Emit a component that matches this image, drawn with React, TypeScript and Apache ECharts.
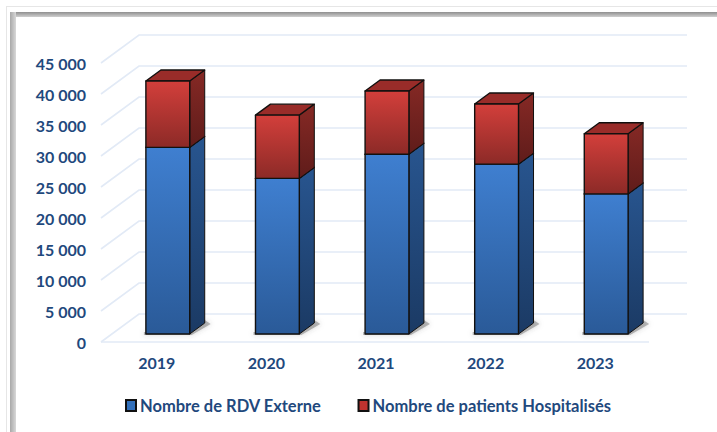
import React, { useEffect, useRef } from "react";
import * as echarts from "echarts";

const categories = ["2019", "2020", "2021", "2022", "2023"];
const rdvExterne = [30100, 25100, 29000, 27400, 22600];
const hospitalises = [10700, 10200, 10200, 9700, 9700];
const yTicks = [0, 5000, 10000, 15000, 20000, 25000, 30000, 35000, 40000, 45000];
const rdvName = "Nombre de RDV Externe";
const hospName = "Nombre de patients Hospitalisés";

const TEXT = "#1f497d";
const FONT = "Lato";
const WALL = { dx: 38, dy: -28 };
const BAR = { shiftX: 12, shiftY: -8, depthX: 15, depthY: -11, ratio: 0.4 };

const grad = (a: string, b: string) =>
  new echarts.graphic.LinearGradient(0, 0, 0, 1, [
    { offset: 0, color: a },
    { offset: 1, color: b },
  ]);

function wallItem(params: any, api: any) {
  const v = api.value(0);
  const cs = params.coordSys;
  const y = api.coord([0, v])[1];
  const l = cs.x;
  const r = cs.x + cs.width;
  const style = { stroke: "#e2eaf6", lineWidth: 1.6, fill: "none" };
  const children: any[] = [
    {
      type: "polyline",
      shape: { points: [[l, y], [l + WALL.dx, y + WALL.dy], [r + WALL.dx, y + WALL.dy]] },
      style,
    },
  ];
  if (v === 0) children.push({ type: "line", shape: { x1: l, y1: y, x2: r, y2: y }, style });
  return { type: "group", children };
}

function barItem(colors: { front: [string, string]; side: [string, string]; top: string }, base: boolean) {
  return (_params: any, api: any) => {
    const i = api.value(0);
    const p0 = api.coord([i, api.value(1)]);
    const p1 = api.coord([i, api.value(2)]);
    const w = api.size([1, 0])[0] * BAR.ratio;
    const xl = p0[0] + BAR.shiftX - w / 2;
    const xr = xl + w;
    const yb = p0[1] + BAR.shiftY;
    const yt = p1[1] + BAR.shiftY;
    const dx = BAR.depthX;
    const dy = BAR.depthY;
    const edge = { stroke: "#12100f", lineWidth: 1.4, lineJoin: "round" };
    const children: any[] = [];
    if (base) {
      children.push({
        type: "polygon",
        shape: { points: [[xl - 2, yb + 1], [xr + 2, yb + 1], [xr + dx + 6, yb + dy + 1], [xr + dx, yb + dy - 3], [xr, yb - 2], [xl - 2, yb - 2]] },
        style: { fill: "rgba(90,90,90,0.4)", shadowBlur: 5, shadowColor: "rgba(70,70,70,0.6)" },
      });
    }
    children.push(
      {
        type: "polygon",
        shape: { points: [[xr, yb], [xr + dx, yb + dy], [xr + dx, yt + dy], [xr, yt]] },
        style: { fill: grad(colors.side[0], colors.side[1]), ...edge, lineWidth: 1 },
      },
      {
        type: "polygon",
        shape: { points: [[xl, yt], [xl + dx, yt + dy], [xr + dx, yt + dy], [xr, yt]] },
        style: { fill: colors.top, ...edge },
      },
      {
        type: "rect",
        shape: { x: xl, y: yt, width: w, height: yb - yt },
        style: { fill: grad(colors.front[0], colors.front[1]), ...edge },
      }
    );
    return { type: "group", children };
  };
}

export default function App() {
  const ref = useRef<HTMLDivElement>(null);
  useEffect(() => {
    document.body.style.margin = "0";
    const chart = echarts.init(ref.current!, undefined, { renderer: "svg" });
    const rdvData = categories.map((_, i) => [i, 0, rdvExterne[i]]);
    const hospData = categories.map((_, i) => [i, rdvExterne[i], rdvExterne[i] + hospitalises[i]]);
    chart.setOption({
      animation: false,
      backgroundColor: "#ffffff",
      textStyle: { fontFamily: FONT },
      grid: { left: 101, right: 68, top: 63, bottom: 90 },
      xAxis: {
        type: "category",
        data: categories,
        axisLine: { show: false },
        axisTick: { show: false },
        axisLabel: { color: TEXT, fontFamily: FONT, fontWeight: 700, fontSize: 16, margin: 12, padding: [0, 0, 0, 2] },
      },
      yAxis: {
        type: "value",
        min: 0,
        max: 45000,
        interval: 5000,
        axisLine: { show: false },
        axisTick: { show: false },
        splitLine: { show: false },
        axisLabel: {
          color: TEXT,
          fontFamily: FONT,
          fontWeight: 700,
          fontSize: 16,
          margin: 15,
          padding: [0, 0, 2, 0],
          formatter: (v: number) => String(v).replace(/\B(?=(\d{3})+$)/g, " "),
        },
      },
      legend: {
        left: 120,
        top: 392,
        itemWidth: 10,
        itemHeight: 11,
        itemGap: 36,
        icon: "rect",
        data: [rdvName, hospName],
        textStyle: { color: TEXT, fontFamily: FONT, fontWeight: 700, fontSize: 16.5, padding: [0, 0, 0, -1] },
      },
      series: [
        {
          type: "custom",
          silent: true,
          data: yTicks.map((v) => [v]),
          encode: { y: 0 },
          renderItem: wallItem,
          z: 1,
        },
        {
          type: "custom",
          name: rdvName,
          data: rdvData,
          encode: { x: 0, y: [1, 2] },
          itemStyle: { color: "#3270bb", borderColor: "#111", borderWidth: 1 },
          renderItem: barItem({ front: ["#3f7fd0", "#2a5a98"], side: ["#28558f", "#1b3a64"], top: "#28558f" }, true),
          z: 2,
        },
        {
          type: "custom",
          name: hospName,
          data: hospData,
          encode: { x: 0, y: [1, 2] },
          itemStyle: { color: "#c0332f", borderColor: "#111", borderWidth: 1 },
          renderItem: barItem({ front: ["#d33f3b", "#8c2a27"], side: ["#862925", "#5f1c1a"], top: "#992c29" }, false),
          z: 3,
        },
      ],
      graphic: [
        { type: "rect", shape: { x: 6, y: 6, width: 711, height: 1 }, style: { fill: "#e6e6e6" }, silent: true },
        { type: "rect", shape: { x: 6, y: 6, width: 1, height: 426 }, style: { fill: "#e6e6e6" }, silent: true },
        {
          type: "rect",
          shape: { x: 12, y: 12, width: 705, height: 5 },
          style: { fill: new echarts.graphic.LinearGradient(0, 0, 0, 1, [{ offset: 0, color: "#8f8f8f" }, { offset: 1, color: "#cfcfcf" }]) },
          silent: true,
        },
        {
          type: "rect",
          shape: { x: 10, y: 12, width: 6, height: 420 },
          style: { fill: new echarts.graphic.LinearGradient(0, 0, 1, 0, [{ offset: 0, color: "#a8a8a8" }, { offset: 1, color: "#d8d8d8" }]) },
          silent: true,
        },
      ],
    });
    return () => chart.dispose();
  }, []);
  return <div ref={ref} style={{ width: 717, height: 432 }} />;
}
